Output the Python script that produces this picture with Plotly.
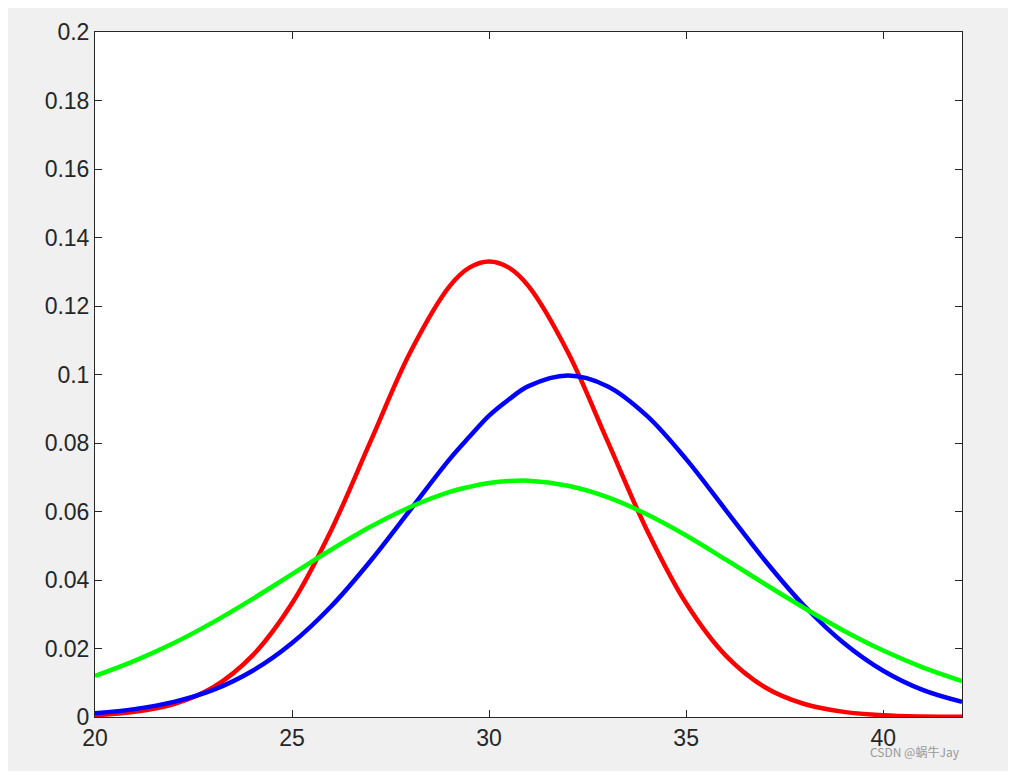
import plotly.graph_objects as go

x = [20, 21, 22, 23, 24, 25, 26, 27, 28, 29, 29.5, 30, 30.5, 31, 32, 33, 34, 35, 36, 37, 38, 39, 40, 41, 42]
red = [0.00051, 0.0015, 0.0038, 0.0087, 0.0180, 0.0332, 0.0547, 0.0807, 0.1065, 0.1258, 0.1312, 0.1330,
       0.1312, 0.1258, 0.1065, 0.0807, 0.0547, 0.0332, 0.0180, 0.0087, 0.0038, 0.0015, 0.00051, 0.00015, 0.00004]
blue = [0.0011, 0.0023, 0.0044, 0.0079, 0.0135, 0.0216, 0.0324, 0.0457, 0.0605, 0.0753, 0.0818, 0.0880, 0.0927,
        0.0966, 0.0997, 0.0966, 0.0880, 0.0753, 0.0605, 0.0457, 0.0324, 0.0216, 0.0135, 0.0079, 0.0044]
green = [0.0120, 0.0164, 0.0216, 0.0277, 0.0345, 0.0417, 0.0489, 0.0556, 0.0613, 0.0657, 0.0672, 0.0683, 0.0689,
         0.0690, 0.0675, 0.0642, 0.0592, 0.0530, 0.0460, 0.0388, 0.0318, 0.0252, 0.0194, 0.0145, 0.0105]
yticks = [0, 0.02, 0.04, 0.06, 0.08, 0.1, 0.12, 0.14, 0.16, 0.18, 0.2]
yticktext = ["0", "0.02", "0.04", "0.06", "0.08", "0.1", "0.12", "0.14", "0.16", "0.18", "0.2"]

fig = go.Figure()
for y, c in [(red, "#ff0000"), (blue, "#0000ff"), (green, "#00ff00")]:
    fig.add_trace(go.Scatter(x=x, y=y, mode="lines", line=dict(color=c, width=4.5, shape="spline"),
                             showlegend=False))

ax = dict(showline=True, linecolor="#262626", linewidth=1, mirror="ticks", ticks="inside",
          ticklen=7, tickcolor="#262626", showgrid=False, zeroline=False,
          tickfont=dict(family="Liberation Sans, Arial", size=23, color="#262626"))
fig.update_xaxes(range=[20, 42], tickvals=[20, 25, 30, 35, 40], **ax)
fig.update_yaxes(range=[0, 0.2], tickvals=yticks, ticktext=yticktext, **ax)
fig.update_layout(width=1000, height=763, paper_bgcolor="#f0f0f0", plot_bgcolor="white",
                  margin=dict(l=87, r=46, t=24, b=54))
fig.add_annotation(text="CSDN @蜗牛Jay", xref="paper", yref="paper", x=1.0, y=-0.065,
                   xanchor="right", yanchor="bottom", showarrow=False,
                   font=dict(family="Noto Sans CJK SC", size=12, color="#999999"))
fig.write_html("out.html")
